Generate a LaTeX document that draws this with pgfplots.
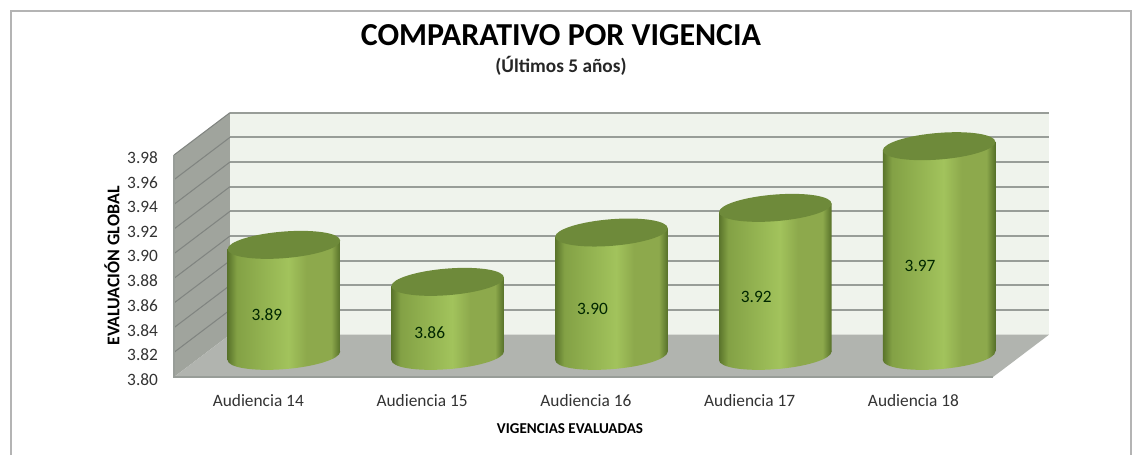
\documentclass[border=0pt]{standalone}
\usepackage{fontspec}
\setmainfont{Carlito}
\usepackage{pgfplots}
\usepackage{pgfplotstable}
\pgfplotsset{compat=1.18}
\definecolor{wallc}{HTML}{EFF3EC}
\definecolor{floorc}{HTML}{B1B4AF}
\definecolor{sidec}{HTML}{A0A49D}
\definecolor{gridc}{HTML}{989D98}
\definecolor{topc}{HTML}{6E8A3A}
\definecolor{framec}{HTML}{B4B4B4}
\definecolor{txt}{HTML}{333333}
\definecolor{cA}{HTML}{5A742B}
\definecolor{cB}{HTML}{83A145}
\definecolor{cC}{HTML}{A2C35C}
\definecolor{cD}{HTML}{8DA94C}
\definecolor{cE}{HTML}{567029}
\pgfdeclarehorizontalshading{cyl}{100bp}{color(0bp)=(cA); color(25bp)=(cA); color(29bp)=(cB); color(52bp)=(cC); color(60bp)=(cD); color(71bp)=(cD); color(75bp)=(cE); color(100bp)=(cE)}
\pgfdeclareplotmark{cyltop}{%
  \pgfpathellipse{\pgfpointorigin}{\pgfqpoint{42.2pt}{3.2pt}}{\pgfqpoint{0pt}{10pt}}%
  \pgfsetfillcolor{topc}\pgfusepathqfill}
\pgfdeclareplotmark{cylbase}{%
  \pgfpathellipse{\pgfpointorigin}{\pgfqpoint{42.2pt}{3.2pt}}{\pgfqpoint{0pt}{10pt}}%
  \pgfshadepath{cyl}{0}\pgfusepath{discard}}
\pgfplotstableread{
x y
0 3.89
1 3.86
2 3.90
3 3.92
4 3.97
}\vals
\pgfplotstableread{
x y
0 3.80
1 3.80
2 3.80
3 3.80
4 3.80
}\bases
\pgfplotstableread{
x y label
0.067 3.8503 3.89
1.061 3.8357 3.86
2.055 3.8551 3.90
3.055 3.8649 3.92
4.055 3.8900 3.97
}\labs
\begin{document}
\begin{tikzpicture}[x=1pt,y=1pt]
\useasboundingbox (0,0) rectangle (850.5,341.25);
\fill[white] (0,0) rectangle (850.5,341.25);
\draw[framec,line width=1.5pt] (8.25,0) -- (8.25,333) -- (848.6,333) -- (848.6,0);
\begin{axis}[
  at={(130.5pt,58.5pt)}, anchor=south west,
  scale only axis, width=614.25pt, height=166.5pt,
  xmin=-0.5, xmax=4.5, ymin=3.80, ymax=3.98,
  clip=false, unbounded coords=jump,
  axis line style={draw=none}, tick style={draw=none},
  xtick={0,1,2,3,4},
  xticklabels={Audiencia 14,Audiencia 15,Audiencia 16,Audiencia 17,Audiencia 18},
  ytick={3.80,3.82,3.84,3.86,3.88,3.90,3.92,3.94,3.96,3.98},
  /pgf/number format/assume math mode=true,
  yticklabel style={/pgf/number format/fixed,/pgf/number format/fixed zerofill,/pgf/number format/precision=2,font=\fontsize{13}{15}\selectfont,text=txt,xshift=-8.5pt,yshift=-2pt},
  xticklabel style={font=\fontsize{13}{15}\selectfont,text=txt,yshift=-9.5pt,xshift=1.8pt},
  title={\fontsize{24}{28}\selectfont\bfseries COMPARATIVO POR VIGENCIA},
  title style={at={(rel axis cs:0.4725,1.504)},anchor=center},
  xlabel={\fontsize{11.3}{13}\selectfont\bfseries VIGENCIAS EVALUADAS},
  every axis x label/.style={at={(rel axis cs:0.4835,-0.234)},anchor=center},
  ylabel={\fontsize{13.4}{15}\selectfont\bfseries EVALUACIÓN GLOBAL},
  every axis y label/.style={at={(rel axis cs:-0.0757,0.5)},rotate=90,anchor=center},
]
% walls and floor
\addplot[fill=wallc,draw=none] coordinates {(-0.1585,3.8343) (4.8415,3.8343) (4.8415,4.0143) (-0.1585,4.0143)} -- cycle;
\addplot[fill=sidec,draw=none] coordinates {(-0.5,3.80) (-0.1585,3.8343) (-0.1585,4.0143) (-0.5,3.98)} -- cycle;
\addplot[fill=floorc,draw=none] coordinates {(-0.5,3.80) (4.5,3.80) (4.8415,3.8343) (-0.1585,3.8343)} -- cycle;
% grid on the back wall
\addplot[gridc,line width=1.4pt] table[x=x,y=y] {
x y
-0.1585 3.8543
4.8415 3.8543
nan nan
-0.1585 3.8743
4.8415 3.8743
nan nan
-0.1585 3.8943
4.8415 3.8943
nan nan
-0.1585 3.9143
4.8415 3.9143
nan nan
-0.1585 3.9343
4.8415 3.9343
nan nan
-0.1585 3.9543
4.8415 3.9543
nan nan
-0.1585 3.9743
4.8415 3.9743
nan nan
-0.1585 3.9943
4.8415 3.9943
nan nan
-0.1585 4.0143
4.8415 4.0143
};
% grid on the side wall
\addplot[gridc!85!black,line width=0.8pt] table[x=x,y=y] {
x y
-0.5 3.82
-0.1585 3.8543
nan nan
-0.5 3.84
-0.1585 3.8743
nan nan
-0.5 3.86
-0.1585 3.8943
nan nan
-0.5 3.88
-0.1585 3.9143
nan nan
-0.5 3.90
-0.1585 3.9343
nan nan
-0.5 3.92
-0.1585 3.9543
nan nan
-0.5 3.94
-0.1585 3.9743
nan nan
-0.5 3.96
-0.1585 3.9943
nan nan
-0.5 3.98
-0.1585 4.0143
};
% front edge of floor
\addplot[gridc,line width=1.2pt] coordinates {(-0.5,3.98) (-0.5,3.80) (4.5,3.80)};
% cylinders: base, body, top
\addplot[only marks,mark=cylbase,xshift=21pt,yshift=15.86pt] table[x=x,y=y] {\bases};
\pgfplotsset{cylbody/.style={ybar,bar width=84.4pt,bar shift=0pt,draw=none,shading=cyl,xshift=21pt,yshift=#1,yslant=0.0758}}
\addplot[cylbody=11.198pt] coordinates {(0,3.89)};
\addplot[cylbody=1.875pt] coordinates {(1,3.86)};
\addplot[cylbody=-7.45pt] coordinates {(2,3.90)};
\addplot[cylbody=-16.77pt] coordinates {(3,3.92)};
\addplot[cylbody=-26.10pt] coordinates {(4,3.97)};
\addplot[only marks,mark=cyltop,xshift=21pt,yshift=15.86pt] table[x=x,y=y] {\vals};
% data labels
\addplot[draw=none,mark=none,point meta=explicit symbolic,
  nodes near coords,
  nodes near coords style={anchor=center,font=\fontsize{13}{15}\selectfont,text=black!75!green!60!black}]
  table[x=x,y=y,meta=label] {\labs};
\node[font=\fontsize{14.5}{16}\selectfont\bfseries,text=black!85] at (rel axis cs:0.4725,1.4) {(Últimos 5 años)};
\end{axis}
\end{tikzpicture}
\end{document}
